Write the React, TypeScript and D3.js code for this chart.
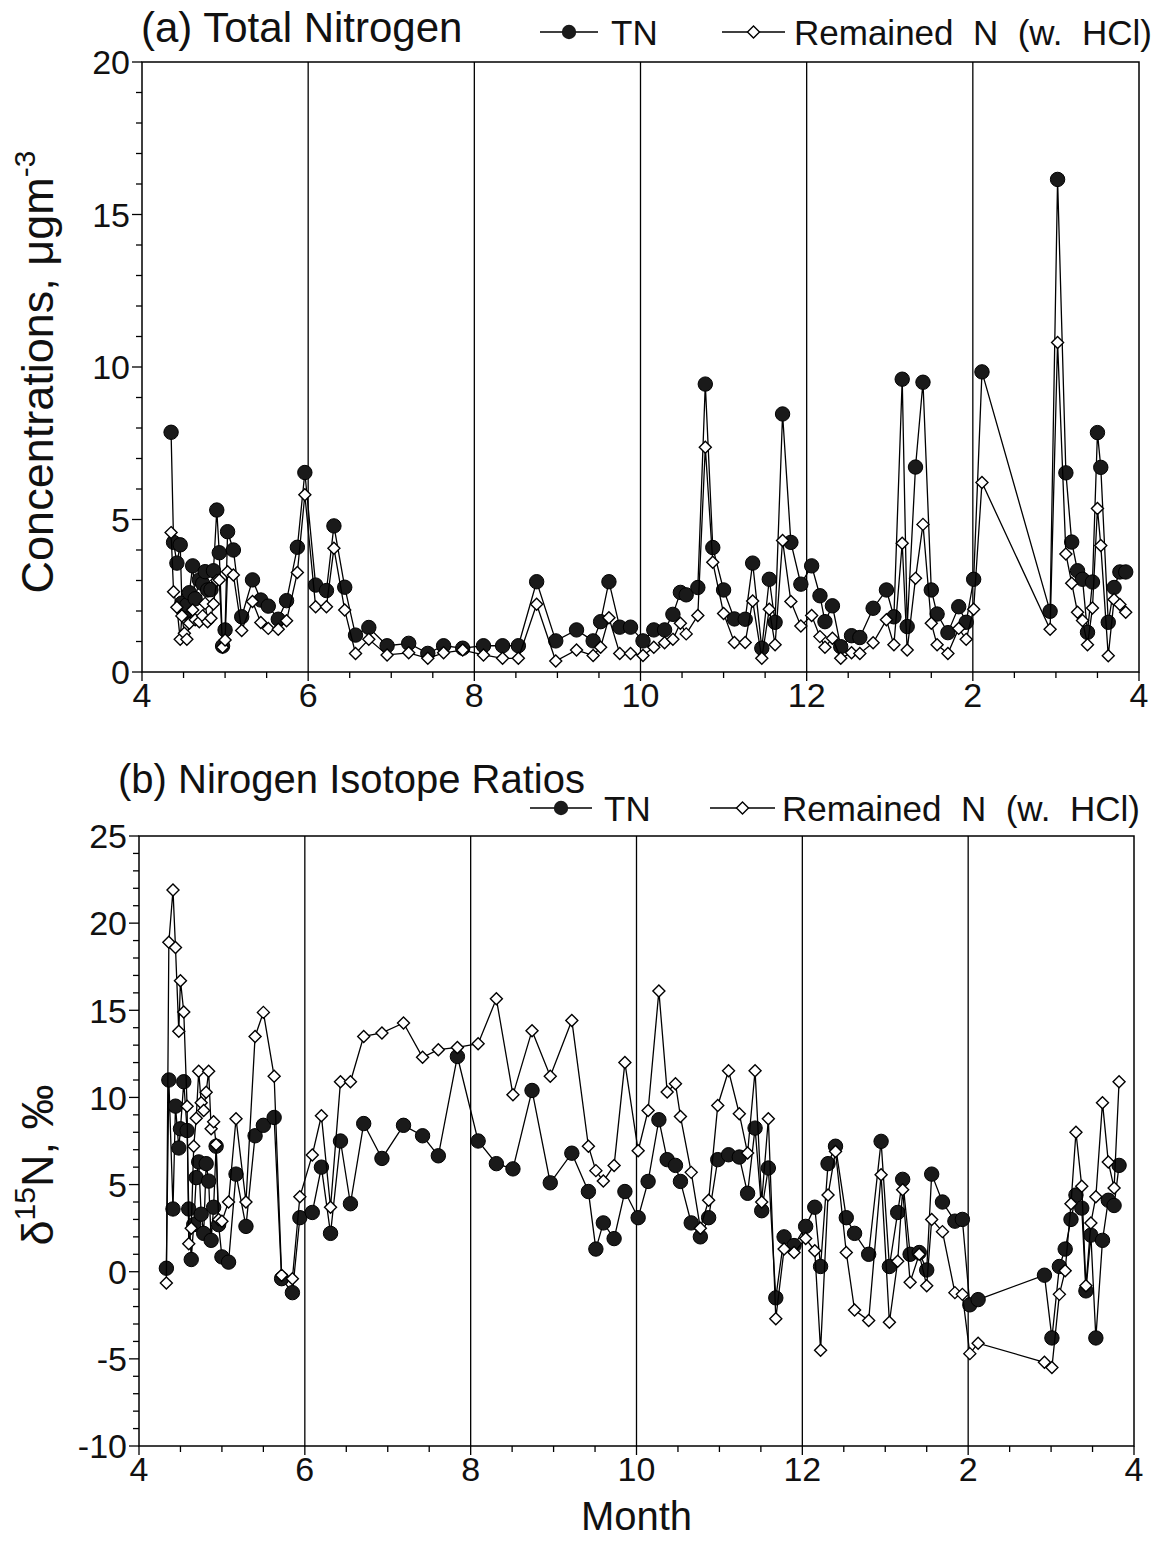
import React from 'react';
import * as d3 from 'd3';

const FONT = '"Liberation Sans", Arial, Helvetica, sans-serif';

// panel (a): sampling months (4 = April ... 12 = December, 14 = February, 16 = April)
const monthsA = [
  4.35, 4.38, 4.42, 4.46, 4.48, 4.51, 4.54, 4.57, 4.61, 4.64, 4.69, 4.73, 4.76, 4.79, 4.83,
  4.86, 4.90, 4.93, 4.97, 5.00, 5.03, 5.10, 5.20, 5.33, 5.43, 5.52, 5.64, 5.74, 5.87, 5.96,
  6.09, 6.22, 6.31, 6.44, 6.57, 6.73, 6.95, 7.21, 7.44, 7.63, 7.86, 8.11, 8.34, 8.53, 8.75,
  8.98, 9.23, 9.43, 9.52, 9.62, 9.75, 9.88,
  10.03, 10.16, 10.29, 10.39, 10.48, 10.55, 10.69, 10.78, 10.87, 11.00, 11.13, 11.26, 11.35,
  11.46, 11.55, 11.62, 11.71, 11.81, 11.93, 12.06, 12.16, 12.22, 12.31, 12.41, 12.54, 12.64,
  12.80, 12.96, 13.05, 13.15, 13.21, 13.31, 13.40, 13.50, 13.57, 13.70, 13.83, 13.92, 14.01, 14.11,
  14.93, 15.02, 15.12, 15.19, 15.26, 15.32, 15.38, 15.44, 15.50, 15.54, 15.63, 15.70, 15.77, 15.84,
];
const tnConc = [
  7.86, 4.25, 3.57, 4.17, 2.26, 1.93, 2.2, 2.6, 3.48, 2.4, 3.02, 2.9, 3.29, 2.69, 2.7,
  3.32, 5.31, 3.91, 0.85, 1.38, 4.6, 4.0, 1.81, 3.02, 2.36, 2.16, 1.73, 2.34, 4.09, 6.54,
  2.85, 2.67, 4.79, 2.78, 1.21, 1.46, 0.86, 0.94, 0.61, 0.86, 0.78, 0.86, 0.86, 0.86, 2.96,
  1.02, 1.38, 1.02, 1.65, 2.96, 1.47, 1.47,
  1.02, 1.38, 1.38, 1.89, 2.61, 2.53, 2.77, 9.44, 4.08, 2.69, 1.74, 1.73, 3.57,
  0.78, 3.04, 1.63, 8.46, 4.25, 2.88, 3.48, 2.5, 1.65, 2.17, 0.83, 1.19, 1.13,
  2.09, 2.69, 1.81, 9.6, 1.49, 6.72, 9.5, 2.69, 1.9, 1.29, 2.14, 1.63, 3.04, 9.84,
  1.99, 16.15, 6.53, 4.26, 3.32, 3.04, 1.3, 2.95, 7.85, 6.71, 1.63, 2.77, 3.28, 3.28,
];
const remConc = [
  4.57, 2.63, 2.12, 1.07, 1.84, 1.27, 1.07, 1.6, 2.03, 1.71, 1.65, 1.84, 2.25, 1.65, 1.76,
  2.23, 3.0, 3.02, 0.81, 1.05, 3.29, 3.18, 1.36, 2.31, 1.62, 1.43, 1.4, 1.68, 3.26, 5.81,
  2.14, 2.14, 4.06, 2.03, 0.61, 1.07, 0.56, 0.63, 0.45, 0.63, 0.72, 0.56, 0.45, 0.45, 2.22,
  0.36, 0.72, 0.54, 0.81, 1.78, 0.61, 0.61,
  0.54, 0.81, 0.96, 1.07, 1.6, 1.25, 1.85, 7.37, 3.6, 1.92, 0.97, 0.97, 2.33,
  0.45, 2.06, 0.89, 4.31, 2.31, 1.51, 1.85, 1.16, 0.81, 1.11, 0.45, 0.63, 0.61,
  0.96, 1.71, 0.89, 4.22, 0.72, 3.07, 4.84, 1.6, 0.89, 0.61, 1.43, 1.07, 2.06, 6.21,
  1.4, 10.8, 3.87, 2.91, 1.96, 1.69, 0.89, 2.1, 5.36, 4.15, 0.53, 2.38, 2.21, 1.96,
];

// panel (b): sampling months and delta 15N (per mil)
const monthsB = [
  4.33, 4.36, 4.41, 4.44, 4.48, 4.50, 4.54, 4.58, 4.60, 4.63, 4.66, 4.69, 4.72, 4.75, 4.78, 4.81,
  4.84, 4.87, 4.90, 4.93, 4.96, 5.00, 5.08, 5.17, 5.29, 5.40, 5.50, 5.63, 5.72, 5.85, 5.94,
  6.09, 6.20, 6.31, 6.43, 6.55, 6.71, 6.93, 7.19, 7.42, 7.61, 7.84, 8.09, 8.31, 8.51, 8.74,
  8.96, 9.22, 9.42, 9.51, 9.60, 9.73, 9.86,
  10.02, 10.14, 10.27, 10.37, 10.47, 10.53, 10.66, 10.77, 10.87, 10.98, 11.11, 11.24, 11.34,
  11.43, 11.51, 11.59, 11.68, 11.78, 11.90, 12.04, 12.15, 12.22, 12.31, 12.40, 12.53, 12.63,
  12.80, 12.95, 13.05, 13.15, 13.21, 13.30, 13.41, 13.50, 13.56, 13.69, 13.84, 13.93, 14.02, 14.12,
  14.92, 15.01, 15.10, 15.17, 15.24, 15.30, 15.37, 15.42, 15.48, 15.54, 15.62, 15.69, 15.76, 15.82,
];
const tnIso = [
  0.2, 11.0, 3.6, 9.5, 7.1, 8.2, 10.9, 8.1, 3.6, 0.7, 2.7, 5.4, 6.3, 3.3, 2.2, 6.2,
  5.2, 1.8, 3.7, 7.2, 2.7, 0.85, 0.55, 5.6, 2.6, 7.8, 8.4, 8.85, -0.4, -1.2, 3.1,
  3.4, 6.0, 2.2, 7.5, 3.9, 8.5, 6.5, 8.4, 7.8, 6.65, 12.35, 7.5, 6.2, 5.9, 10.4,
  5.1, 6.8, 4.6, 1.3, 2.8, 1.9, 4.6,
  3.1, 5.18, 8.72, 6.43, 6.1, 5.18, 2.8, 2.0, 3.1, 6.43, 6.71, 6.58, 4.5,
  8.24, 3.5, 5.95, -1.5, 2.0, 1.5, 2.6, 3.7, 0.3, 6.2, 7.2, 3.1, 2.2,
  1.0, 7.48, 0.3, 3.4, 5.3, 1.0, 1.1, 0.1, 5.6, 4.0, 2.9, 3.0, -1.9, -1.6,
  -0.2, -3.8, 0.3, 1.3, 3.0, 4.4, 3.65, -1.1, 2.1, -3.8, 1.8, 4.1, 3.8, 6.1,
];
const remIso = [
  -0.65, 18.9, 21.9, 18.6, 13.8, 16.7, 14.9, 9.5, 1.6, 2.5, 7.2, 8.8, 11.5, 9.7, 9.25, 10.3,
  11.5, 8.2, 8.6, 7.3, 3.0, 2.9, 4.0, 8.78, 4.0, 13.5, 14.88, 11.21, -0.2, -0.4, 4.3,
  6.7, 8.95, 3.7, 10.9, 10.9, 13.5, 13.7, 14.27, 12.3, 12.74, 12.87, 13.08, 15.66, 10.15, 13.83,
  11.21, 14.42, 7.2, 5.8, 5.2, 6.1, 12.0,
  6.94, 9.25, 16.1, 10.31, 10.79, 8.91, 5.7, 2.5, 4.1, 9.54, 11.53, 9.06, 6.81,
  11.53, 4.0, 8.78, -2.7, 1.3, 1.1, 1.9, 1.2, -4.5, 4.4, 6.9, 1.1, -2.2,
  -2.8, 5.57, -2.9, 0.6, 4.7, -0.6, 1.0, -0.8, 3.0, 2.3, -1.2, -1.3, -4.7, -4.1,
  -5.2, -5.5, -1.3, 0.06, 3.9, 8.0, 4.9, -0.8, 2.8, 4.3, 9.7, 6.3, 4.8, 10.9,
];

const monthTicks = [4, 6, 8, 10, 12, 14, 16];
const concTicks = [0, 5, 10, 15, 20];
const isoTicks = [-10, -5, 0, 5, 10, 15, 20, 25];
const seriesNames = ['TN', 'Remained  N  (w.  HCl)'];

const monthLabel = (m: number) => String(m > 12 ? m - 12 : m);
const DIAMOND = 'M0,-6L6,0L0,6L-6,0Z';

type Box = { left: number; right: number; top: number; bottom: number };

function Panel({ box, yDomain, yTicks, months, tn, rem }: {
  box: Box; yDomain: [number, number]; yTicks: number[];
  months: number[]; tn: number[]; rem: number[];
}) {
  const x = d3.scaleLinear().domain([4, 16]).range([box.left, box.right]);
  const y = d3.scaleLinear().domain(yDomain).range([box.bottom, box.top]);
  const line = d3.line<[number, number]>().x(d => x(d[0])).y(d => y(d[1]));
  const tnPts = months.map((m, i) => [m, tn[i]] as [number, number]);
  const remPts = months.map((m, i) => [m, rem[i]] as [number, number]);
  const minorX = d3.range(4, 16.01, 0.5);
  const minorY = d3.range(yDomain[0], yDomain[1] + 0.01, 1);

  return (
    <g>
      {/* frame */}
      <rect x={box.left} y={box.top} width={box.right - box.left} height={box.bottom - box.top}
        fill="none" stroke="#000" strokeWidth={1.5} />
      {monthTicks.slice(1, -1).map(m => (
        <line key={'g' + m} x1={x(m)} x2={x(m)} y1={box.top} y2={box.bottom} stroke="#000" strokeWidth={1.3} />
      ))}
      {/* x ticks */}
      {minorX.map(m => (
        <line key={'xt' + m} x1={x(m)} x2={x(m)} y1={box.bottom} y2={box.bottom + (m % 2 === 0 ? 9 : 6)}
          stroke="#000" strokeWidth={1.3} />
      ))}
      {monthTicks.map(m => (
        <text key={'xl' + m} x={x(m)} y={box.bottom + 35} textAnchor="middle" fontSize={34}>{monthLabel(m)}</text>
      ))}
      {/* y ticks */}
      {minorY.map(v => (
        <line key={'yt' + v} x1={box.left} x2={box.left - (v % 5 === 0 ? 10 : 6)} y1={y(v)} y2={y(v)}
          stroke="#000" strokeWidth={1.3} />
      ))}
      {yTicks.map(v => (
        <text key={'yl' + v} x={box.left - 12} y={y(v)} dy="0.36em" textAnchor="end" fontSize={34}>{String(v)}</text>
      ))}
      {/* TN */}
      <path d={line(tnPts) || ''} fill="none" stroke="#000" strokeWidth={1.3} />
      {tnPts.map((d, i) => (
        <circle key={'c' + i} cx={x(d[0])} cy={y(d[1])} r={7.2} fill="#1a1a1a" stroke="#000" strokeWidth={1} />
      ))}
      {/* remained N */}
      <path d={line(remPts) || ''} fill="none" stroke="#000" strokeWidth={1.3} />
      {remPts.map((d, i) => (
        <path key={'d' + i} d={DIAMOND} transform={`translate(${x(d[0])},${y(d[1])})`}
          fill="#fff" stroke="#000" strokeWidth={1.4} />
      ))}
    </g>
  );
}

function Legend({ cy, tnLine, remLine, tnText, remText, textY }: {
  cy: number; tnLine: [number, number]; remLine: [number, number]; tnText: number; remText: number; textY: number;
}) {
  return (
    <g>
      <line x1={tnLine[0]} x2={tnLine[1]} y1={cy} y2={cy} stroke="#000" strokeWidth={1.3} />
      <circle cx={(tnLine[0] + tnLine[1]) / 2} cy={cy} r={7.2} fill="#1a1a1a" />
      <text x={tnText} y={textY} fontSize={35}>{seriesNames[0]}</text>
      <line x1={remLine[0]} x2={remLine[1]} y1={cy} y2={cy} stroke="#000" strokeWidth={1.3} />
      <path d={DIAMOND} transform={`translate(${(remLine[0] + remLine[1]) / 2},${cy})`} fill="#fff" stroke="#000" strokeWidth={1.4} />
      <text x={remText} y={textY} fontSize={35} style={{ whiteSpace: 'pre' }}>{seriesNames[1]}</text>
    </g>
  );
}

export default function App() {
  const boxA: Box = { left: 142, right: 1139, top: 62, bottom: 672 };
  const boxB: Box = { left: 139, right: 1134, top: 836, bottom: 1446 };
  return (
    <div style={{ position: 'absolute', left: 0, top: 0 }}>
      <svg width={1161} height={1541} style={{ display: 'block', background: '#fff' }} fontFamily={FONT} fill="#111">
        <text x={141} y={42} fontSize={42}>(a) Total Nitrogen</text>
        <Legend cy={32} tnLine={[540, 598]} remLine={[722, 785]} tnText={611} remText={794} textY={45} />
        <Panel box={boxA} yDomain={[0, 20]} yTicks={concTicks} months={monthsA} tn={tnConc} rem={remConc} />
        <text transform="translate(53,372) rotate(-90)" textAnchor="middle" fontSize={45}>
          Concentrations, μgm<tspan dy={-18} fontSize={30}>-3</tspan>
        </text>

        <text x={118} y={793} fontSize={40}>(b) Nirogen Isotope Ratios</text>
        <Legend cy={808} tnLine={[530, 592]} remLine={[710, 775]} tnText={604} remText={782} textY={821} />
        <Panel box={boxB} yDomain={[-10, 25]} yTicks={isoTicks} months={monthsB} tn={tnIso} rem={remIso} />
        <text transform="translate(53,1165) rotate(-90)" textAnchor="middle" fontSize={45}>
          δ<tspan dy={-18} fontSize={30}>15</tspan><tspan dy={18}>N, ‰</tspan>
        </text>
        <text x={(boxB.left + boxB.right) / 2} y={1530} textAnchor="middle" fontSize={40}>Month</text>
      </svg>
    </div>
  );
}
